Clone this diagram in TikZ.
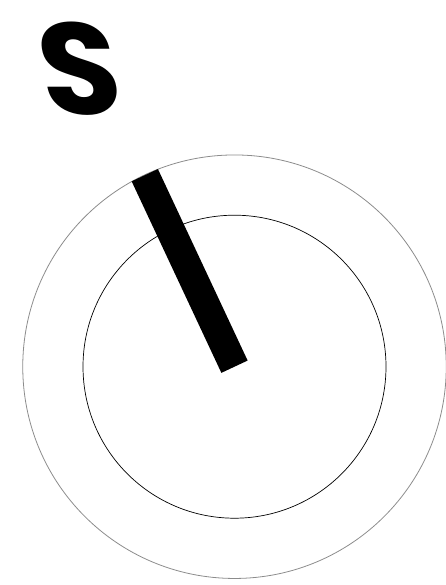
\documentclass[tikz,border=0pt]{standalone}
\usepackage{fontspec}
\newfontfamily\popfont{Poppins}
\begin{document}
\begin{tikzpicture}[x=1pt,y=-1pt,
  outerring/.style={draw=black!45,line width=0.8pt},
  innerring/.style={draw=black,line width=0.7pt},
  handbar/.style={fill=black,draw=none}]
\useasboundingbox (0,0) rectangle (446,585);
\coordinate (c) at (234.5,366.7);
\node[outerring,circle,minimum size=423.5pt,inner sep=0pt] (outer) at (c) {};
\node[innerring,circle,minimum size=303pt,inner sep=0pt] (inner) at (c) {};
\begin{scope}[shift={(c)},rotate=115.1]
  \fill[handbar] (0,-14.5) rectangle (211.5,14.5);
\end{scope}
\begin{scope}[shift={(79.5,68.5)},xslant=-0.15]
  \node[transform shape,inner sep=0pt,anchor=center,font=\popfont\bfseries\fontsize{130}{130}\selectfont] (logo) at (0,0) {S};
\end{scope}
\end{tikzpicture}
\end{document}
